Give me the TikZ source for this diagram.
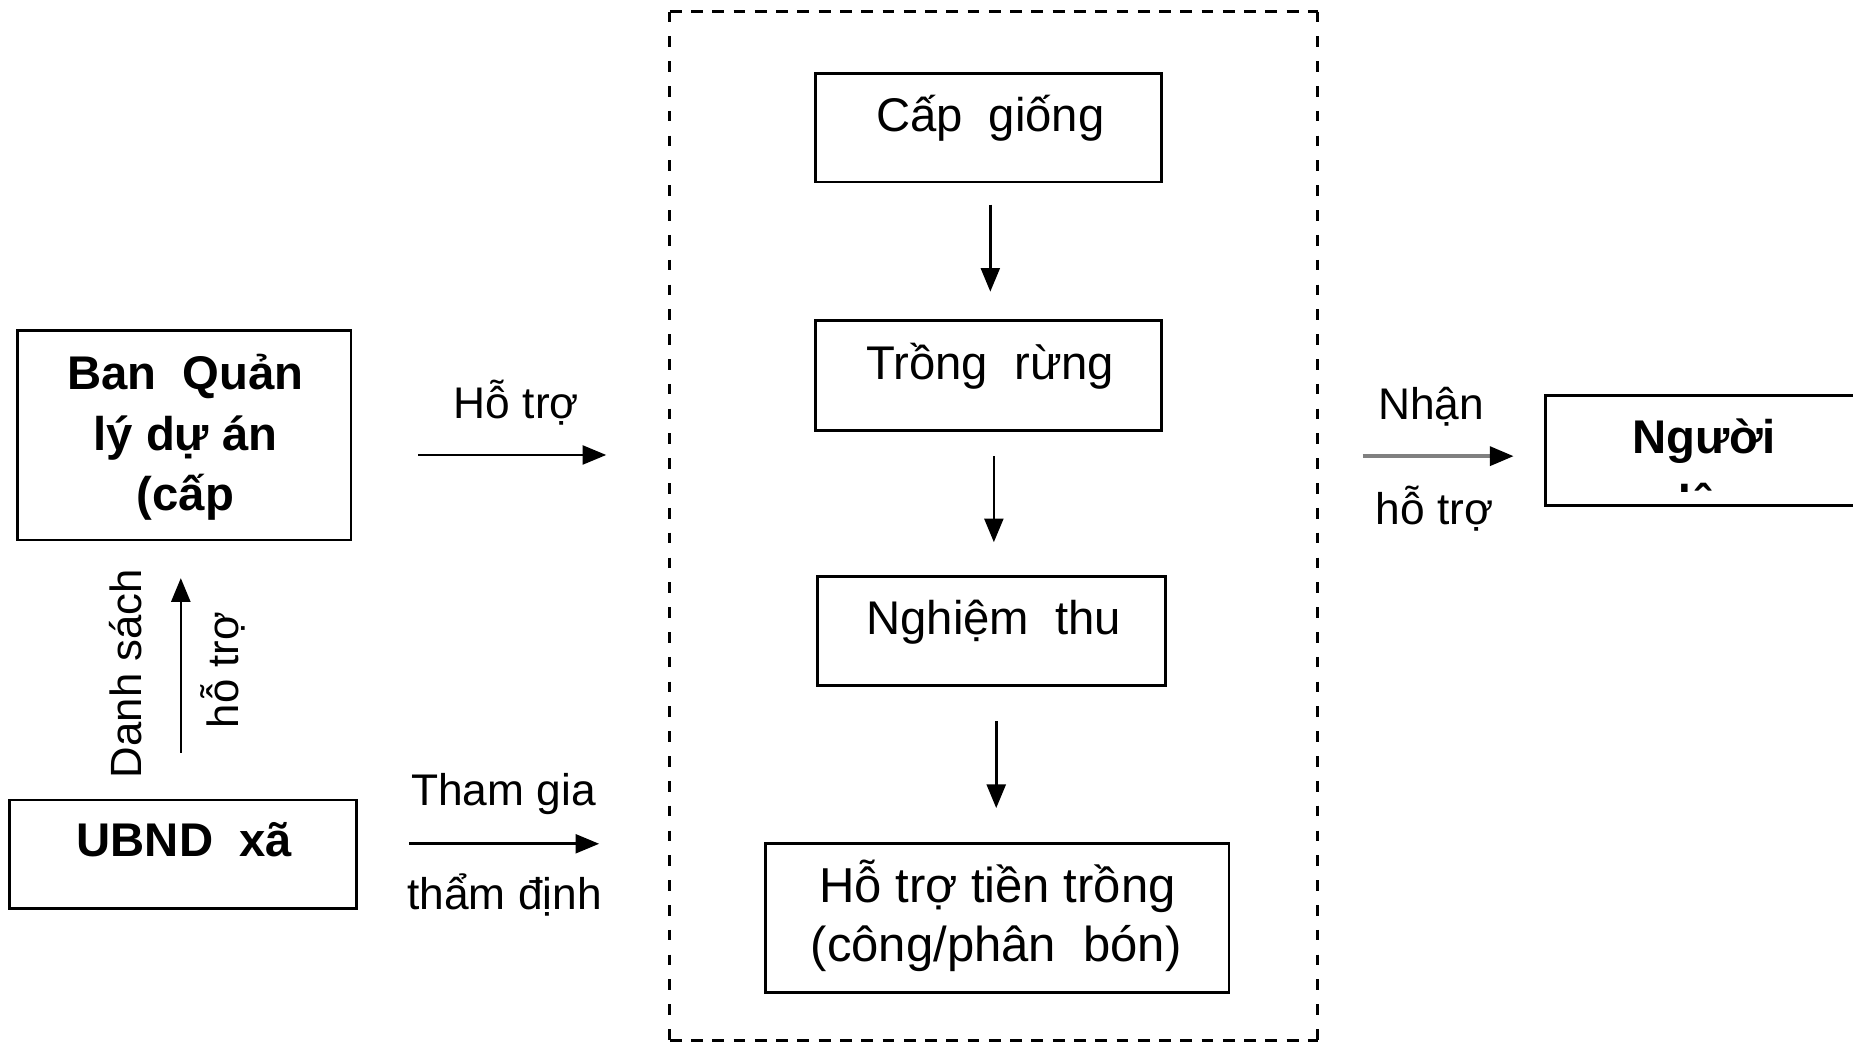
\documentclass[tikz,border=0pt]{standalone}
\usepackage{fontspec}
\setmainfont{Liberation Sans}
\usetikzlibrary{arrows.meta}
\begin{document}
\begin{tikzpicture}[x=1pt,y=-1pt,
  box/.style={draw, line width=2.4pt, inner sep=0pt},
  txt/.style={font=\fontsize{40}{51}\selectfont, anchor=base, inner sep=0pt},
  ltxt/.style={font=\fontsize{37.5}{48}\selectfont, anchor=base, inner sep=0pt},
  btxt/.style={font=\fontsize{40}{51}\selectfont\bfseries, anchor=base, inner sep=0pt},
  rtxt/.style={font=\fontsize{37}{48}\selectfont, rotate=90, inner sep=0pt},
  arr/.style={line width=2.2pt, -{Triangle[length=20pt,width=16pt]}},
  garr/.style={line width=3pt, draw=black!50, -{Triangle[length=20pt,width=16pt,color=black]}},
  hdash/.style={line width=2.4pt, dash pattern=on 10pt off 8pt},
  vdash/.style={line width=2.4pt, dash pattern=on 9pt off 12pt},
]
\useasboundingbox (0,0) rectangle (1568,881);

% group container
\node[minimum width=548pt, minimum height=870pt, inner sep=0pt] (grp) at (841,445) {};
\draw[hdash] (grp.north west) -- (grp.north east);
\draw[hdash] (grp.south west) -- (grp.south east);
\draw[vdash] (grp.north west) -- (grp.south west);
\draw[vdash] (grp.north east) -- (grp.south east);

% inner boxes
\node[box, minimum width=293pt, minimum height=92pt] (cap) at (836.5,108) {};
\node[txt] (tcap) at (838,111) {Cấp\ \ giống};
\node[box, minimum width=293pt, minimum height=93pt] (trong) at (836.5,317.5) {};
\node[txt] (ttrong) at (838,321) {Trồng\ \ rừng};
\node[box, minimum width=294pt, minimum height=92pt] (nghiem) at (839,534) {};
\node[txt] (tnghiem) at (841,537) {Nghiệm\ \ thu};
\node[box, minimum width=392pt, minimum height=126pt] (hotro) at (844,777) {};
\node[txt, font=\fontsize{41.5}{51}\selectfont] (thotro1) at (844,764) {Hỗ trợ tiền trồng};
\node[txt, font=\fontsize{41.5}{51}\selectfont] (thotro2) at (843,814) {(công/phân\ \ bón)};

\draw[arr, shorten <=18pt, shorten >=23pt] (cap.south -| 838,0) -- (trong.north -| 838,0);
\draw[arr, shorten <=21pt, shorten >=28pt] (trong.south -| 841,0) -- (nghiem.north -| 841,0);
\draw[arr, shorten <=29pt, shorten >=29pt] (nghiem.south -| 843,0) -- (hotro.north -| 843,0);

% left boxes
\node[box, minimum width=282pt, minimum height=177pt] (ban) at (156,368.5) {};
\node[btxt] (tban1) at (157,330) {Ban\ \ Quản};
\node[btxt] (tban2) at (157,381) {lý dự án};
\node[btxt] (tban3) at (157,432) {(cấp};
\node[box, minimum width=294pt, minimum height=92pt] (ubnd) at (155,723) {};
\node[btxt] (tubnd) at (156,725) {UBND\ \ xã};

\draw[arr, shorten <=39pt, shorten >=31pt] (ubnd.north -| 153,0) -- (ban.south -| 153,0);
\node[rtxt] (tdanh) at (106,570) {Danh sách};
\node[rtxt] (thotrov) at (189,567) {hỗ trợ};

% horizontal arrows
\coordinate (h1a) at (354,385);
\coordinate (h1b) at (513,385);
\draw[arr] (h1a) -- (h1b);
\node[ltxt] (lhotro) at (437,354) {Hỗ trợ};

\coordinate (h2a) at (346,714);
\coordinate (h2b) at (507,714);
\draw[arr] (h2a) -- (h2b);
\node[ltxt] (ltham) at (426,682) {Tham gia};
\node[ltxt] (ltham2) at (427,770) {thẩm định};

% right side
\node[box, minimum width=290pt, minimum height=93pt] (nguoi) at (1453,381.5) {};
\begin{scope}
  \clip (1310,337) rectangle (1566,416);
  \node[btxt] (tnguoi1) at (1442,384) {Người};
  \node[btxt] (tnguoi2) at (1442,439) {dân};
\end{scope}
\coordinate (h3a) at (1153,386);
\draw[garr] (h3a) -- (nguoi.west |- h3a) [shorten >=26pt];
\node[ltxt] (lnhan) at (1211,355) {Nhận};
\node[ltxt] (lnhan2) at (1214,444) {hỗ trợ};
\end{tikzpicture}
\end{document}
